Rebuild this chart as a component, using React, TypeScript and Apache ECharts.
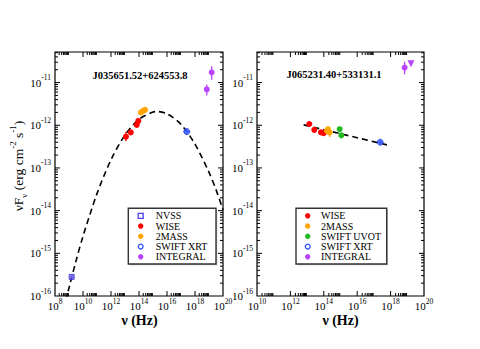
import React, { useEffect, useRef } from "react";
import * as echarts from "echarts";

const SERIF = '"Liberation Serif", "DejaVu Serif", "Times New Roman", serif';

// ---------- axes ----------
const leftXMajor = [1e8, 1e10, 1e12, 1e14, 1e16, 1e18, 1e20];
const rightXMajor = [1e10, 1e12, 1e14, 1e16, 1e18, 1e20];
const yMajor = [1e-16, 1e-15, 1e-14, 1e-13, 1e-12, 1e-11];
const LEFT_X_MIN = 1e8;
const RIGHT_X_MIN = 1e10;
const X_MAX = 1e20;
const Y_MIN = 1e-16;
const Y_MAX = 5.2e-11;
// interior reference values used only to locate tick positions along one axis
const X_REF = 1e15;
const Y_REF = 1e-13;

// ---------- J035651.52+624553.8 (left panel) ----------
const L_NVSS_nu = [1.55e9];
const L_NVSS_flux = [2.8e-16];
const L_WISE_nu = [1.17e13, 2.57e13, 6.9e13, 8.9e13];
const L_WISE_flux = [5.4e-13, 6.8e-13, 1.02e-12, 1.26e-12];
const L_2MASS_nu = [1.38e14, 2.04e14, 2.7e14];
const L_2MASS_flux = [2.0e-12, 2.19e-12, 2.29e-12];
const L_XRT_nu = [2.57e17];
const L_XRT_flux = [7.1e-13];
const L_INT_nu = [6.9e18, 1.55e19];
const L_INT_flux = [6.9e-12, 1.74e-11];
// vertical error bars [nu, low, high]; horizontal [nuLow, nuHigh, flux]
const L_WISE_err = [[1.17e13, 4.2e-13, 7.0e-13]];
const L_XRT_err = [[2.57e17, 6.0e-13, 8.4e-13]];
const L_XRT_xerr = [[1.6e17, 4.1e17, 7.1e-13]];
const L_INT_err = [
  [6.9e18, 5.0e-12, 9.0e-12],
  [1.55e19, 1.17e-11, 2.4e-11],
];
// dashed model curve
const L_curve_nu = [4e8, 6.3e8, 1e9, 3.16e9, 1e10, 1e11, 1e12, 1e13, 1e14, 1e15, 2e15, 1e16, 1e17, 1e18, 1e19, 3.16e19, 1e20];
const L_curve_flux = [4.5e-17, 8.5e-17, 1.55e-16, 6.6e-16, 2.5e-15, 2.5e-14, 1.55e-13, 5.9e-13, 1.38e-12, 2.04e-12, 2.09e-12, 1.86e-12, 1.05e-12, 3.6e-13, 7.9e-14, 3.1e-14, 1.05e-14];

// ---------- J065231.40+533131.1 (right panel) ----------
const R_WISE_nu = [1.35e13, 2.7e13, 6.8e13, 9.8e13];
const R_WISE_flux = [1.07e-12, 7.8e-13, 6.8e-13, 6.5e-13];
const R_2MASS_nu = [1.55e14, 1.78e14, 2.24e14];
const R_2MASS_flux = [7.4e-13, 8.1e-13, 6.8e-13];
const R_UVOT_nu = [8.9e14, 1.12e15];
const R_UVOT_flux = [8.1e-13, 5.8e-13];
const R_XRT_nu = [2.4e17];
const R_XRT_flux = [4.0e-13];
const R_INT_nu = [6.9e18];
const R_INT_flux = [2.24e-11];
const R_INT_limit_nu = [1.66e19];
const R_INT_limit_flux = [2.75e-11];
const R_2MASS_err = [[2.24e14, 5.3e-13, 8.5e-13]];
const R_UVOT_err = [[1.12e15, 5.0e-13, 6.6e-13]];
const R_XRT_err = [[2.4e17, 3.5e-13, 4.5e-13]];
const R_XRT_xerr = [[1.7e17, 3.3e17, 4.0e-13]];
const R_INT_err = [[6.9e18, 1.55e-11, 3.1e-11]];
const R_INT_xerr = [[5.6e18, 8.4e18, 2.24e-11]];
const R_line_nu = [6.2e12, 6.0e17];
const R_line_flux = [1.02e-12, 3.47e-13];

const leftLegend = ["NVSS", "WISE", "2MASS", "SWIFT XRT", "INTEGRAL"];
const rightLegend = ["WISE", "2MASS", "SWIFT UVOT", "SWIFT XRT", "INTEGRAL"];

const C: Record<string, string> = {
  NVSS: "#6f5ff5",
  WISE: "#ff0000",
  "2MASS": "#ffa500",
  "SWIFT UVOT": "#22bb22",
  "SWIFT XRT": "#3a5cff",
  INTEGRAL: "#bb44ff",
};

function minorTicks(majors: number[], max: number) {
  const out: number[] = [];
  majors.forEach((v) => {
    for (let m = 2; m <= 9; m++) {
      const t = m * v;
      if (t < max) out.push(t);
    }
  });
  return out;
}

const supFormatter = (v: number) => {
  const e = Math.round(Math.log10(v));
  return `{b|10}{s|${e}}`;
};
const supRich = {
  b: { fontFamily: SERIF, fontSize: 11, lineHeight: 18, color: "#000" },
  s: { fontFamily: SERIF, fontSize: 7.5, lineHeight: 8, verticalAlign: "top", color: "#000" },
};

function makeXAxis(grid: number, min: number, majors: number[]) {
  return {
    type: "log",
    logBase: 10,
    gridIndex: grid,
    min,
    max: X_MAX,
    position: "bottom",
    axisLine: { show: false },
    splitLine: { show: false },
    axisTick: { show: false },
    minorTick: { show: false },
    axisLabel: { show: true, customValues: majors, formatter: supFormatter, rich: supRich, margin: 1 },
  };
}

function makeYAxis(grid: number) {
  return {
    type: "log",
    logBase: 10,
    gridIndex: grid,
    min: Y_MIN,
    max: Y_MAX,
    position: "left",
    axisLine: { show: false },
    splitLine: { show: false },
    axisTick: { show: false },
    minorTick: { show: false },
    axisLabel: { show: true, customValues: yMajor, formatter: supFormatter, rich: supRich, margin: 4 },
  };
}

// inward tick marks: position along the axis from the scale, edge from the grid rect
function tickSeries(axis: number, values: number[], edge: string, len: number) {
  const isX = edge === "bottom" || edge === "top";
  return {
    type: "custom",
    name: "_ticks",
    xAxisIndex: axis,
    yAxisIndex: axis,
    data: values.map((v) => (isX ? [v, Y_REF] : [X_REF, v])),
    encode: { x: 0, y: 1 },
    z: 6,
    renderItem: (params: any, api: any) => {
      const cs = params.coordSys;
      const p = api.coord([api.value(0), api.value(1)]);
      let shape;
      if (edge === "bottom") {
        const y = cs.y + cs.height;
        shape = { x1: p[0], y1: y, x2: p[0], y2: y - len };
      } else if (edge === "top") {
        shape = { x1: p[0], y1: cs.y, x2: p[0], y2: cs.y + len };
      } else if (edge === "left") {
        shape = { x1: cs.x, y1: p[1], x2: cs.x + len, y2: p[1] };
      } else {
        const x = cs.x + cs.width;
        shape = { x1: x, y1: p[1], x2: x - len, y2: p[1] };
      }
      return { type: "line", shape, style: { stroke: "#000", lineWidth: 1 } };
    },
  };
}

function panelTicks(axis: number, xMajor: number[]) {
  const xMinor = minorTicks(xMajor.slice(0, -1), X_MAX);
  const yMinor = minorTicks(yMajor, Y_MAX);
  const xMaj = xMajor.slice(1, -1);
  const yMaj = yMajor.slice(1);
  return [
    tickSeries(axis, xMaj, "bottom", 5),
    tickSeries(axis, xMinor, "bottom", 3),
    tickSeries(axis, xMaj, "top", 5),
    tickSeries(axis, xMinor, "top", 3),
    tickSeries(axis, yMaj, "left", 5),
    tickSeries(axis, yMinor, "left", 3),
    tickSeries(axis, yMaj, "right", 5),
    tickSeries(axis, yMinor, "right", 3),
  ];
}

function zip(a: number[], b: number[]) {
  return a.map((v, i) => [v, b[i]]);
}

function scatter(name: string, axis: number, nu: number[], flux: number[], extra: any = {}) {
  return {
    type: "scatter",
    name,
    xAxisIndex: axis,
    yAxisIndex: axis,
    data: zip(nu, flux),
    symbol: "circle",
    symbolSize: 6,
    itemStyle: { color: C[name], opacity: 1 },
    z: 5,
    ...extra,
  };
}

function vErr(axis: number, data: number[][], color: string) {
  return {
    type: "custom",
    name: "_verr",
    xAxisIndex: axis,
    yAxisIndex: axis,
    data,
    encode: { x: 0, y: [1, 2] },
    z: 3,
    renderItem: (_p: any, api: any) => {
      const a = api.coord([api.value(0), api.value(1)]);
      const b = api.coord([api.value(0), api.value(2)]);
      return {
        type: "line",
        shape: { x1: a[0], y1: a[1], x2: b[0], y2: b[1] },
        style: { stroke: color, lineWidth: 1.3 },
      };
    },
  };
}

function hErr(axis: number, data: number[][], color: string) {
  return {
    type: "custom",
    name: "_herr",
    xAxisIndex: axis,
    yAxisIndex: axis,
    data,
    encode: { x: [0, 1], y: 2 },
    z: 3,
    renderItem: (_p: any, api: any) => {
      const a = api.coord([api.value(0), api.value(2)]);
      const b = api.coord([api.value(1), api.value(2)]);
      return {
        type: "line",
        shape: { x1: a[0], y1: a[1], x2: b[0], y2: b[1] },
        style: { stroke: color, lineWidth: 1.3 },
      };
    },
  };
}

// legend box drawn as graphic elements (box geometry in px)
function legendGraphic(names: string[], box: number[], iconX: number, textX: number, rowY0: number, rowStep: number) {
  const [x0, y0, x1, y1] = box;
  const els: any[] = [
    {
      type: "rect",
      shape: { x: x0 + 1.2, y: y0 + 1.2, width: x1 - x0, height: y1 - y0 },
      style: { fill: "#999", stroke: "none", opacity: 0.6 },
      z: 10,
    },
    {
      type: "rect",
      shape: { x: x0, y: y0, width: x1 - x0, height: y1 - y0 },
      style: { fill: "#fff", stroke: "#333", lineWidth: 1.4 },
      z: 11,
    },
  ];
  names.forEach((n, i) => {
    const y = rowY0 + i * rowStep;
    if (n === "NVSS") {
      els.push({
        type: "rect",
        shape: { x: iconX - 2.5, y: y - 2.5, width: 5, height: 5 },
        style: { fill: "none", stroke: "#5040f0", lineWidth: 1.3 },
        z: 12,
      });
    } else if (n === "SWIFT XRT") {
      els.push({
        type: "circle",
        shape: { cx: iconX, cy: y, r: 2.4 },
        style: { fill: "none", stroke: "#2f50ff", lineWidth: 1.3 },
        z: 12,
      });
    } else {
      els.push({
        type: "circle",
        shape: { cx: iconX, cy: y, r: 2.7 },
        style: { fill: C[n], stroke: "none" },
        z: 12,
      });
    }
    els.push({
      type: "text",
      x: textX,
      y,
      style: {
        text: n,
        fontFamily: SERIF,
        fontSize: 10,
        fill: "#000",
        align: "left",
        verticalAlign: "middle",
      },
      z: 12,
    });
  });
  return els;
}

function centeredText(text: string, x: number, y: number, size: number) {
  return {
    type: "text",
    x,
    y,
    style: {
      text,
      fontFamily: SERIF,
      fontSize: size,
      fontWeight: "bold",
      fill: "#000",
      align: "center",
      verticalAlign: "middle",
    },
  };
}

export default function App() {
  const ref = useRef<HTMLDivElement>(null);
  useEffect(() => {
    if (!ref.current) return;
    const chart = echarts.init(ref.current, null, { renderer: "svg" });
    const option: any = {
      animation: false,
      backgroundColor: "#fff",
      grid: [
        { left: 55, top: 52, width: 168, height: 244, show: true, borderColor: "#000", borderWidth: 1.2, backgroundColor: "transparent" },
        { left: 257, top: 52, width: 167, height: 244, show: true, borderColor: "#000", borderWidth: 1.2, backgroundColor: "transparent" },
      ],
      xAxis: [makeXAxis(0, LEFT_X_MIN, leftXMajor), makeXAxis(1, RIGHT_X_MIN, rightXMajor)],
      yAxis: [makeYAxis(0), makeYAxis(1)],
      series: [
        ...panelTicks(0, leftXMajor),
        ...panelTicks(1, rightXMajor),
        // left panel
        {
          type: "line",
          name: "_model",
          xAxisIndex: 0,
          yAxisIndex: 0,
          data: zip(L_curve_nu, L_curve_flux),
          showSymbol: false,
          smooth: 0.3,
          clip: true,
          lineStyle: { color: "#000", width: 1.6, type: [6, 4] },
          z: 2,
        },
        vErr(0, L_WISE_err, C.WISE),
        vErr(0, L_XRT_err, C["SWIFT XRT"]),
        hErr(0, L_XRT_xerr, C["SWIFT XRT"]),
        vErr(0, L_INT_err, C.INTEGRAL),
        scatter("NVSS", 0, L_NVSS_nu, L_NVSS_flux, {
          symbol: "rect",
          symbolSize: 5,
          itemStyle: { color: C.NVSS, borderColor: "#3b2fd0", borderWidth: 1 },
        }),
        scatter("WISE", 0, L_WISE_nu, L_WISE_flux),
        scatter("2MASS", 0, L_2MASS_nu, L_2MASS_flux),
        scatter("SWIFT XRT", 0, L_XRT_nu, L_XRT_flux, {
          itemStyle: { color: C["SWIFT XRT"], borderColor: "#2040e0", borderWidth: 1 },
        }),
        scatter("INTEGRAL", 0, L_INT_nu, L_INT_flux),
        // right panel
        {
          type: "line",
          name: "_fit",
          xAxisIndex: 1,
          yAxisIndex: 1,
          data: zip(R_line_nu, R_line_flux),
          showSymbol: false,
          lineStyle: { color: "#000", width: 1.6, type: [6, 4] },
          z: 2,
        },
        vErr(1, R_2MASS_err, C["2MASS"]),
        vErr(1, R_UVOT_err, C["SWIFT UVOT"]),
        vErr(1, R_XRT_err, C["SWIFT XRT"]),
        hErr(1, R_XRT_xerr, C["SWIFT XRT"]),
        vErr(1, R_INT_err, C.INTEGRAL),
        hErr(1, R_INT_xerr, C.INTEGRAL),
        scatter("WISE", 1, R_WISE_nu, R_WISE_flux),
        scatter("2MASS", 1, R_2MASS_nu, R_2MASS_flux),
        scatter("SWIFT UVOT", 1, R_UVOT_nu, R_UVOT_flux),
        scatter("SWIFT XRT", 1, R_XRT_nu, R_XRT_flux, {
          itemStyle: { color: C["SWIFT XRT"], borderColor: "#2040e0", borderWidth: 1 },
        }),
        scatter("INTEGRAL", 1, R_INT_nu, R_INT_flux),
        scatter("INTEGRAL", 1, R_INT_limit_nu, R_INT_limit_flux, {
          symbol: "triangle",
          symbolRotate: 180,
          symbolSize: 7,
        }),
      ],
      graphic: [
        centeredText("J035651.52+624553.8", 140, 75, 10.5),
        centeredText("J065231.40+533131.1", 334, 74, 10.5),
        centeredText("ν (Hz)", 139.5, 320, 14),
        centeredText("ν (Hz)", 340.5, 320, 14),
        {
          type: "text",
          x: 18,
          y: 166,
          rotation: Math.PI / 2,
          style: {
            text: "{n|νF}{sub|ν}{n| (erg cm}{sup|-2}{n| s}{sup|-1}{n|)}",
            fill: "#000",
            align: "center",
            verticalAlign: "middle",
            rich: {
              n: { fontFamily: SERIF, fontSize: 13.5, lineHeight: 20, fill: "#000", color: "#000" },
              sup: { fontFamily: SERIF, fontSize: 9, lineHeight: 9, verticalAlign: "top", fill: "#000", color: "#000" },
              sub: { fontFamily: SERIF, fontSize: 9, lineHeight: 9, verticalAlign: "bottom", fill: "#000", color: "#000" },
            },
          },
        },
        ...legendGraphic(leftLegend, [128.3, 208.3, 216, 264], 140.7, 155.7, 215.8, 10.25),
        ...legendGraphic(rightLegend, [296, 208.3, 386.7, 264], 307.7, 321, 215.8, 10.25),
      ],
    };
    chart.setOption(option);
    return () => chart.dispose();
  }, []);
  return (
    <div
      ref={ref}
      style={{ position: "fixed", left: 0, top: 0, width: 480, height: 349, background: "#fff" }}
    />
  );
}
